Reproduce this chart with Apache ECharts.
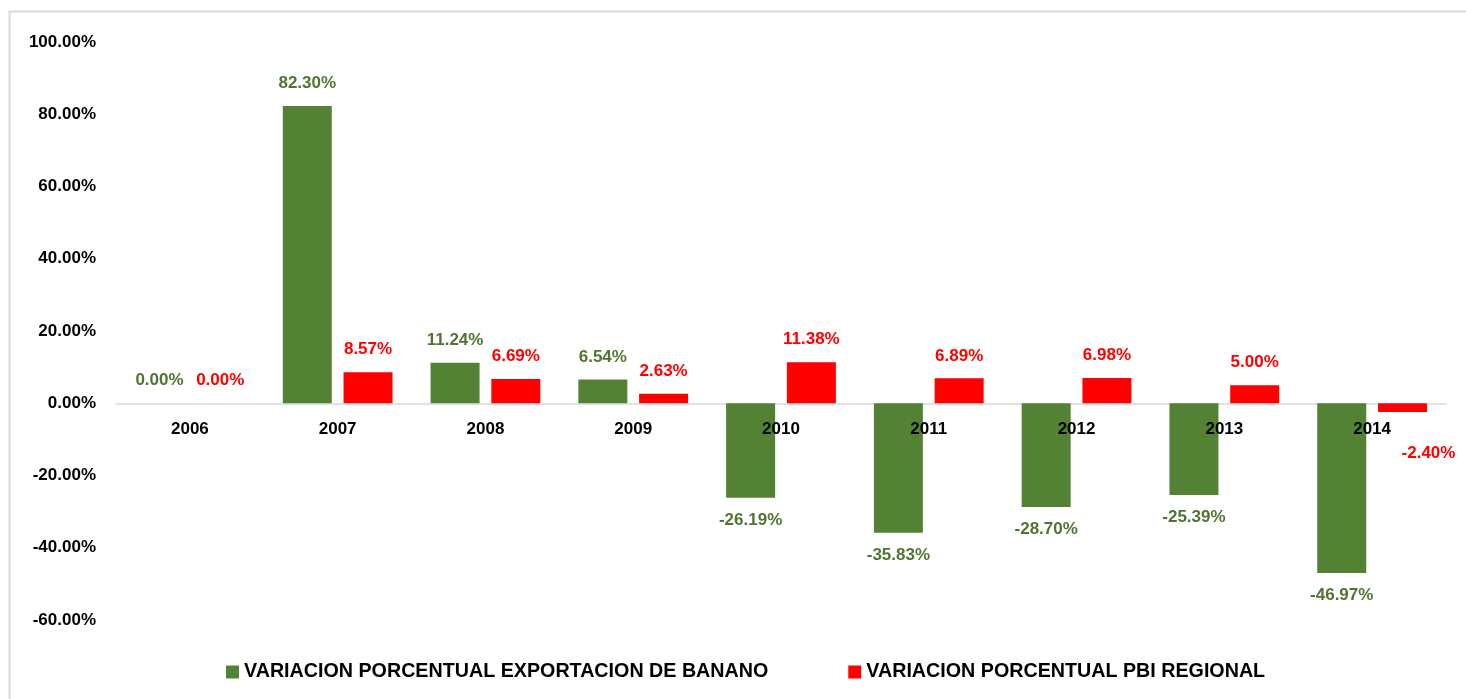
<!DOCTYPE html>
<html lang="es">
<head>
    <meta charset="UTF-8">
    <title>Variacion porcentual</title>
    <script src="https://cdn.jsdelivr.net/npm/echarts@6/dist/echarts.min.js"></script>
    <style>
        html, body { margin: 0; padding: 0; background: #fff; }
    </style>
</head>
<body>
    <div id="dv" style="width:1466px;height:699px;"></div>
</body>
<script>
   var years = ['2006', '2007', '2008', '2009', '2010', '2011', '2012', '2013', '2014']
   var banano = [0.00, 82.30, 11.24, 6.54, -26.19, -35.83, -28.70, -25.39, -46.97]
   var pbi = [0.00, 8.57, 6.69, 2.63, 11.38, 6.89, 6.98, 5.00, -2.40]
   var names = ['VARIACION PORCENTUAL EXPORTACION DE BANANO', 'VARIACION PORCENTUAL PBI REGIONAL']

   var font = "'Liberation Sans', Arial, sans-serif"
   var green = '#548235'
   var red = '#ff0000'

   // grid: top 42, bottom 620 -> zero line sits at 403
   var gridTop = 42, gridBottom = 79, chartH = 699
   var zeroY = gridTop + (chartH - gridTop - gridBottom) * 100 / 160
   var axisOffset = -(chartH - gridBottom - zeroY)

   function toItems(vals, labelColor) {
       return vals.map(function (v) {
           return {
               value: v,
               label: { position: v < 0 ? 'bottom' : 'top', color: labelColor }
           }
       })
   }

   var pbiItems = toItems(pbi, red)
   // the last label was moved by hand in the original
   pbiItems[8].label.offset = [26, 19]

   var myChart = echarts.init(document.getElementById('dv'))
   var option = {
        animation: false,
        textStyle: { fontFamily: font },
        graphic: [{
            type: 'rect',
            shape: { x: 9.5, y: 11.5, width: 1500, height: 720 },
            style: { fill: 'none', stroke: '#d9d9d9', lineWidth: 2 },
            silent: true
        }],
        grid: { left: 116, right: 20, top: gridTop, bottom: gridBottom },
        legend: {
            bottom: 12,
            left: 221,
            itemWidth: 13,
            itemHeight: 13,
            itemGap: 80,
            icon: 'rect',
            textStyle: { fontFamily: font, fontSize: 19.7, fontWeight: 'bold', color: '#000' },
            data: names
        },
        xAxis: [{
            // zero line, under the bars
            type: 'category',
            data: years,
            position: 'bottom',
            offset: axisOffset,
            axisLine: { onZero: false, lineStyle: { color: '#d9d9d9', width: 1.5 } },
            axisTick: { show: false },
            axisLabel: { show: false }
        }, {
            // year labels, drawn over the bars
            type: 'category',
            data: years,
            position: 'bottom',
            offset: axisOffset,
            z: 10,
            axisLine: { show: false },
            axisTick: { show: false },
            axisLabel: { fontFamily: font, fontSize: 17, fontWeight: 'bold', color: '#000', margin: 18 }
        }],
        yAxis: {
            type: 'value',
            min: -60,
            max: 100,
            interval: 20,
            splitLine: { show: false },
            axisLine: { show: false },
            axisTick: { show: false },
            axisLabel: {
                fontFamily: font, fontSize: 17, fontWeight: 'bold', color: '#000', margin: 20,
                formatter: function (v) { return v.toFixed(2) + '%' }
            }
        },
        series: [{
            name: names[0],
            type: 'bar',
            xAxisIndex: 0,
            barWidth: 49,
            barGap: '24%',
            itemStyle: { color: green },
            label: {
                show: true,
                fontFamily: font, fontSize: 17, fontWeight: 'bold',
                distance: 14,
                formatter: function (p) { return p.value.toFixed(2) + '%' }
            },
            data: toItems(banano, '#4f7530')
        }, {
            name: names[1],
            type: 'bar',
            xAxisIndex: 0,
            barWidth: 49,
            itemStyle: { color: red },
            label: {
                show: true,
                fontFamily: font, fontSize: 17, fontWeight: 'bold',
                distance: 14,
                formatter: function (p) { return p.value.toFixed(2) + '%' }
            },
            data: pbiItems
        }]
   }
   myChart.setOption(option)
</script>
</html>
